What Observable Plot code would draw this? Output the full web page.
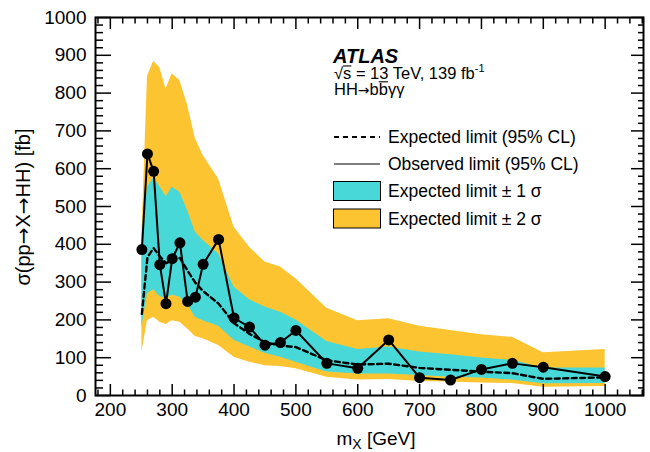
<!DOCTYPE html>
<html>
<head>
<meta charset="utf-8">
<script src="https://cdn.jsdelivr.net/npm/d3@7"></script>
<script src="https://cdn.jsdelivr.net/npm/@observablehq/plot@0.6"></script>
<style>
  html, body { margin: 0; padding: 0; background: white; }
  svg text { font-family: "Liberation Sans", Arial, Helvetica, sans-serif; }
</style>
</head>
<body>
<div id="chart"></div>
<script>
// ---- data ----
const mass     = [251, 260, 270, 280, 290, 300, 312.5, 325, 337.5, 350, 375, 400, 425, 450, 475, 500, 550, 600, 650, 700, 750, 800, 850, 900, 1000];
const observed = [386, 639, 593, 346, 243, 362, 404, 249, 260, 347, 413, 205, 181, 133, 140, 172, 85, 72, 147, 47, 41, 69, 85, 75, 50];
const expected = [216, 366, 390, 368, 350, 358, 364, 330, 298, 276, 243, 191, 163, 141, 132, 128, 93, 82, 84, 73, 68, 63, 59, 44, 48];
const upper2   = [420, 844, 884, 867, 811, 851, 833, 767, 679, 635, 573, 445, 392, 353, 340, 309, 231, 198, 203, 183, 172, 161, 154, 113, 122];
const upper1   = [400, 551, 576, 553, 526, 551, 538, 489, 432, 410, 375, 287, 253, 234, 220, 200, 143, 122, 128, 115, 108, 99, 93, 73, 73];
const lower1   = [180, 270, 280, 262, 256, 266, 260, 240, 207, 198, 183, 146, 128, 112, 101, 88, 62, 57, 57, 53, 48, 46, 41, 31, 32];
const lower2   = [115, 198, 207, 194, 188, 198, 194, 176, 156, 150, 132, 101, 88, 79, 77, 71, 48, 41, 42, 37, 36, 33, 32, 22, 24];

const xMajor = [200, 300, 400, 500, 600, 700, 800, 900, 1000];
const xMinor = d3.range(180, 1061, 20).filter(v => v % 100 !== 0);
const yMajor = [0, 100, 200, 300, 400, 500, 600, 700, 800, 900, 1000];
const yMinor = d3.range(20, 1000, 20).filter(v => v % 100 !== 0);

const yellow = "#fdc432";
const cyan = "#48d8d8";

const rows = mass.map((m, i) => ({
  m, obs: observed[i], exp: expected[i],
  hi2: upper2[i], hi1: upper1[i], lo1: lower1[i], lo2: lower2[i]
}));

const font = "'Liberation Sans', Arial, Helvetica, sans-serif";
const arrowFont = "'DejaVu Sans', sans-serif";

const chart = Plot.plot({
  width: 650,
  height: 452,
  marginLeft: 95,
  marginRight: 7,
  marginTop: 17,
  marginBottom: 57,
  style: {fontFamily: font, background: "white", color: "black", overflow: "visible"},
  x: {domain: [176, 1062]},
  y: {domain: [0, 1000]},
  marks: [
    Plot.areaY(rows, {x: "m", y1: "lo2", y2: "hi2", fill: yellow}),
    Plot.areaY(rows, {x: "m", y1: "lo1", y2: "hi1", fill: cyan}),
    Plot.line(rows, {x: "m", y: "exp", stroke: "black", strokeWidth: 2.4, strokeDasharray: "5,3.5"}),
    Plot.line(rows, {x: "m", y: "obs", stroke: "black", strokeWidth: 2}),
    Plot.dot(rows, {x: "m", y: "obs", r: 5.5, fill: "black", stroke: "none"}),
    // ticks (inward, ROOT style)
    Plot.axisX({anchor: "bottom", ticks: xMajor, tickSize: -11, text: null, label: null, strokeWidth: 1.5}),
    Plot.axisX({anchor: "bottom", ticks: xMinor, tickSize: -5.5, text: null, label: null, strokeWidth: 1.5}),
    Plot.axisX({anchor: "top", ticks: xMajor, tickSize: -11, text: null, label: null, strokeWidth: 1.5}),
    Plot.axisX({anchor: "top", ticks: xMinor, tickSize: -5.5, text: null, label: null, strokeWidth: 1.5}),
    Plot.axisY({anchor: "left", ticks: yMajor, tickSize: -16, text: null, label: null, strokeWidth: 1.5}),
    Plot.axisY({anchor: "left", ticks: yMinor, tickSize: -8, text: null, label: null, strokeWidth: 1.5}),
    Plot.axisY({anchor: "right", ticks: yMajor, tickSize: -13, text: null, label: null, strokeWidth: 1.5}),
    Plot.axisY({anchor: "right", ticks: yMinor, tickSize: -6, text: null, label: null, strokeWidth: 1.5}),
    // tick labels
    Plot.axisX({anchor: "bottom", ticks: xMajor, tickSize: 0, tickPadding: 7, fontSize: 19, label: null, tickFormat: d => String(d)}),
    Plot.axisY({anchor: "left", ticks: yMajor, tickSize: 0, tickPadding: 9, fontSize: 19, label: null, tickFormat: d => String(d)}),
    Plot.frame({stroke: "black", strokeWidth: 2})
  ]
});

document.getElementById("chart").appendChild(chart);

// ---- titles and legend ----
const svg = d3.select(chart);
const g = svg.append("g").attr("fill", "black").attr("text-anchor", "start").style("font-family", font);

function overline(textSel, idx, count, fs, lift, fromEndOf) {
  const node = textSel.node();
  const x0 = fromEndOf != null ? node.getEndPositionOfChar(fromEndOf).x : node.getStartPositionOfChar(idx).x;
  const x1 = node.getEndPositionOfChar(idx + count - 1).x;
  const y = node.getStartPositionOfChar(idx).y - lift * fs;
  g.append("line").attr("x1", x0).attr("x2", x1).attr("y1", y).attr("y2", y)
    .attr("stroke", "black").attr("stroke-width", 1.1);
}

// y-axis title
const yt = g.append("text")
  .attr("transform", "translate(30,207) rotate(-90)")
  .attr("text-anchor", "middle")
  .attr("font-size", 20);
yt.append("tspan").text("σ(pp");
yt.append("tspan").style("font-family", arrowFont).text("→");
yt.append("tspan").text("X");
yt.append("tspan").style("font-family", arrowFont).text("→");
yt.append("tspan").text("HH) [fb]");

// x-axis title with subscript
const xt = g.append("text")
  .attr("x", 376).attr("y", 445)
  .attr("text-anchor", "middle")
  .attr("font-size", 19);
xt.append("tspan").text("m");
xt.append("tspan").attr("font-size", 14).attr("dy", 4).text("X");
xt.append("tspan").attr("dy", -4).text(" [GeV]");

// ATLAS label
g.append("text")
  .attr("x", 333).attr("y", 63)
  .attr("text-anchor", "start")
  .attr("font-size", 20).attr("font-weight", "bold").attr("font-style", "italic")
  .text("ATLAS");

const l2 = g.append("text").attr("x", 334).attr("y", 79).attr("text-anchor", "start").attr("font-size", 16.5);
l2.append("tspan").text("√s = 13 TeV, 139 fb");
l2.append("tspan").attr("font-size", 11).attr("dy", -7).text("-1");
overline(l2, 1, 1, 16.5, 0.79, 0);

const l3 = g.append("text").attr("x", 334).attr("y", 95).attr("text-anchor", "start").attr("font-size", 16.5);
l3.append("tspan").text("HH");
l3.append("tspan").style("font-family", arrowFont).attr("font-size", 14).text("→");
l3.append("tspan").text("bbγγ");
overline(l3, 4, 1, 16.5, 0.8);

const legendRows = [
  {label: "Expected limit (95% CL)", type: "dash", y: 137},
  {label: "Observed limit (95% CL)", type: "line", y: 164},
  {label: "Expected limit ± 1 σ", type: "box", color: cyan, y: 191},
  {label: "Expected limit ± 2 σ", type: "box", color: yellow, y: 218.5}
];
for (const r of legendRows) {
  if (r.type === "dash") {
    g.append("line").attr("x1", 334).attr("x2", 380).attr("y1", r.y).attr("y2", r.y)
      .attr("stroke", "black").attr("stroke-width", 2).attr("stroke-dasharray", "5,4");
  } else if (r.type === "line") {
    g.append("line").attr("x1", 334).attr("x2", 380).attr("y1", r.y).attr("y2", r.y)
      .attr("stroke", "black").attr("stroke-width", 1.2);
  } else {
    g.append("rect").attr("x", 333.5).attr("y", r.y - 9.5).attr("width", 47).attr("height", 19)
      .attr("fill", r.color).attr("stroke", "black").attr("stroke-width", 1);
  }
  g.append("text").attr("x", 388).attr("y", r.y + 6.2).attr("text-anchor", "start")
    .attr("font-size", 17.5).text(r.label);
}
</script>
</body>
</html>
